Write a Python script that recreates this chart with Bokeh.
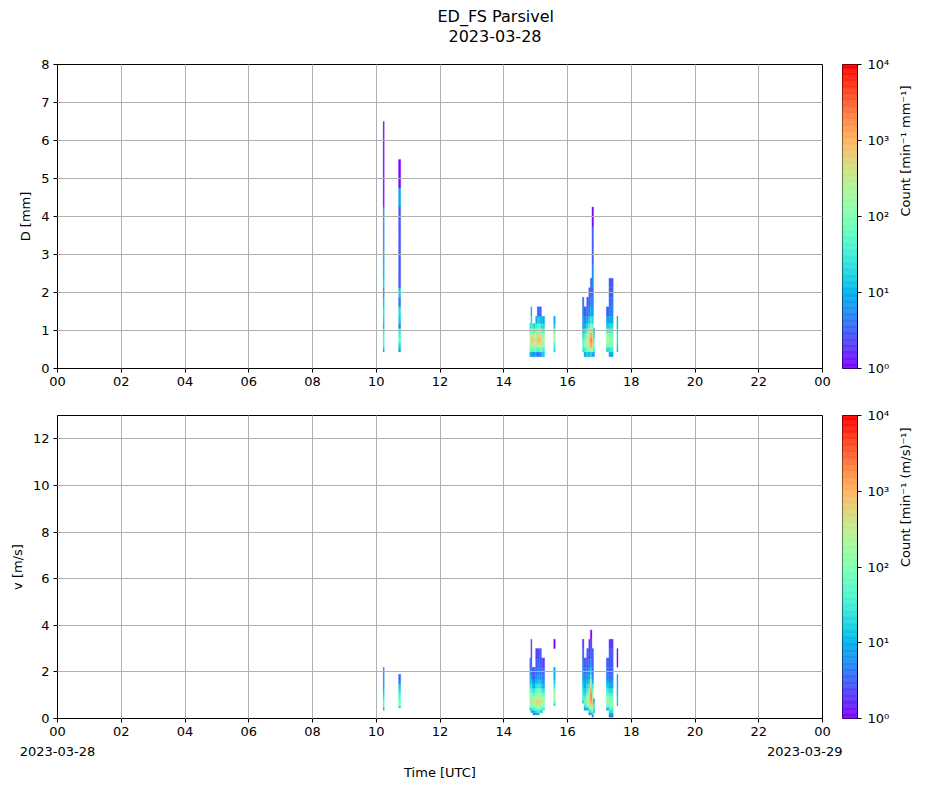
import math
import numpy as np
from bokeh.plotting import figure
from bokeh.models import ColumnDataSource, LogColorMapper, FixedTicker, Range1d, LinearAxis, Title
from bokeh.layouts import column, row
from bokeh.embed import file_html
from bokeh.resources import INLINE

# ---------------- data ----------------
TITLE_LINES = ["ED_FS Parsivel", "2023-03-28"]
DATE_START = "2023-03-28"
DATE_END = "2023-03-29"
X_TICKS = [0, 2, 4, 6, 8, 10, 12, 14, 16, 18, 20, 22, 24]
X_TICK_LABELS = ["00", "02", "04", "06", "08", "10", "12", "14", "16", "18", "20", "22", "00"]
D_TICKS = [0, 1, 2, 3, 4, 5, 6, 7, 8]
V_TICKS = [0, 2, 4, 6, 8, 10, 12]
CB_TICKS = [1, 10, 100, 1000, 10000]
CB_LABELS = ["10⁰", "10¹", "10²", "10³", "10⁴"]

# diameter class centres (mm) used as cell boundaries
D_EDGES = [0.312, 0.437, 0.562, 0.687, 0.812, 0.937, 1.062, 1.187, 1.375, 1.625,
           1.875, 2.125, 2.375, 2.75, 3.25, 3.75, 4.25, 4.75, 5.5, 6.5]
# velocity class centres (m/s) used as cell boundaries
V_EDGES = [0.05, 0.15, 0.25, 0.35, 0.45, 0.55, 0.65, 0.75, 0.85, 0.95, 1.1, 1.3,
           1.5, 1.7, 1.9, 2.2, 2.6, 3.0, 3.4, 3.8, 4.4]

# time columns, minutes after 00 UTC
T_START = [613, 642, 889, 891, 893, 895, 900, 903, 907, 911, 913, 934,
           988, 991, 996, 1000, 1003, 1006, 1009, 1033, 1038, 1053]
T_END = [615, 646, 891, 893, 895, 900, 903, 907, 911, 913, 917, 937,
         991, 996, 1000, 1003, 1006, 1009, 1011, 1038, 1046, 1055]

# counts per diameter cell (per column)
D_COUNTS = [
    [0, 8, 30, 40, 30, 20, 10, 15, 20, 12, 5, 15, 10, 8, 6, 6, 1, 1, 1],
    [0, 10, 20, 60, 40, 25, 5, 15, 20, 4, 15, 3, 3, 3, 3, 3, 8, 1],
    [10, 60, 200, 300, 120, 40, 15],
    [8, 50, 250, 500, 300, 100, 40, 15, 8],
    [10, 80, 300, 700, 400, 120, 30],
    [6, 60, 250, 400, 200, 60, 20],
    [8, 60, 300, 500, 250, 80, 30, 10],
    [3, 40, 300, 800, 600, 200, 50, 15, 3],
    [5, 80, 400, 900, 500, 150, 40, 12, 3],
    [10, 50, 200, 300, 150, 50, 15, 8],
    [15, 40, 150, 250, 120, 40, 20, 10],
    [0, 20, 40, 150, 300, 60, 15, 8],
    [0, 30, 60, 40, 20, 15, 10, 8, 5, 4],
    [10, 40, 100, 80, 40, 20, 10, 5, 3],
    [15, 80, 200, 300, 150, 60, 20, 10, 4, 3],
    [10, 100, 400, 600, 400, 150, 40, 15, 5, 3, 3],
    [20, 300, 1500, 2500, 1500, 500, 100, 30, 10, 5, 3, 3],
    [10, 150, 600, 1000, 500, 200, 60, 20, 8, 5, 4, 6, 6, 3, 3, 1],
    [5, 30, 60, 40, 15, 8],
    [0, 20, 80, 200, 120, 40, 15, 8, 3],
    [10, 30, 100, 150, 80, 40, 20, 10, 5, 4, 3, 3],
    [0, 10, 15, 20, 20, 15, 10, 8],
]

# counts per velocity cell (per column)
V_COUNTS = [
    [0, 0, 0, 8, 20, 40, 40, 30, 20, 15, 10, 8, 6, 5, 5],
    [0, 0, 0, 0, 20, 150, 80, 60, 50, 40, 20, 15, 4, 3],
    [0, 0, 0, 10, 40, 100, 150, 150, 120, 80, 40, 20, 10, 8, 5, 3],
    [0, 0, 10, 30, 80, 200, 300, 300, 200, 120, 60, 30, 15, 8, 5, 3, 2, 2],
    [0, 0, 8, 40, 120, 250, 350, 300, 200, 100, 40, 15, 8, 5, 3],
    [0, 5, 10, 40, 100, 200, 250, 200, 120, 60, 25, 10, 5, 3, 3],
    [0, 8, 20, 60, 150, 300, 400, 350, 250, 120, 60, 25, 10, 6, 4, 3, 2],
    [0, 10, 30, 80, 200, 400, 600, 500, 300, 150, 60, 25, 12, 6, 4, 3, 2],
    [0, 0, 20, 60, 150, 300, 500, 450, 300, 150, 60, 25, 12, 6, 4, 3, 3],
    [0, 0, 10, 40, 100, 200, 300, 250, 150, 80, 30, 12, 6, 4, 3, 2],
    [0, 0, 0, 30, 80, 150, 200, 180, 120, 60, 25, 10, 5, 4, 3, 2],
    [0, 0, 0, 0, 0, 20, 60, 150, 300, 200, 80, 30, 15, 10, 8, 0, 0, 1],
    [0, 0, 0, 0, 0, 0, 15, 30, 40, 30, 20, 15, 10, 8, 6, 4, 3, 2],
    [0, 0, 0, 8, 20, 40, 60, 60, 40, 25, 15, 10, 8, 6, 4, 3],
    [0, 0, 0, 10, 40, 100, 200, 200, 150, 80, 40, 20, 10, 6, 4, 3, 3],
    [0, 5, 15, 40, 120, 300, 500, 600, 400, 200, 80, 30, 15, 8, 5, 3, 2, 2],
    [0, 10, 30, 100, 300, 600, 1200, 2000, 2500, 2500, 1500, 600, 150, 40, 15, 6, 3, 2, 1],
    [5, 20, 60, 200, 400, 600, 700, 600, 400, 200, 80, 30, 10, 6, 4, 3, 3],
    [0, 0, 10, 20, 30, 20, 10, 5],
    [0, 0, 0, 10, 40, 80, 150, 150, 100, 60, 30, 15, 8, 5, 4, 3],
    [5, 10, 20, 40, 80, 120, 150, 120, 80, 40, 20, 10, 6, 4, 3, 3, 3, 2],
    [0, 0, 0, 0, 0, 10, 15, 15, 15, 10, 10, 8, 8, 8, 0, 1, 1],
]

# ---------------- styling helpers ----------------
FONT = "DejaVu Sans"


def rainbow(n=256):
    cols = []
    for i in range(n):
        x = i / (n - 1)
        r = min(1.0, abs(2 * x - 0.5))
        g = np.sin(np.pi * x)
        b = max(0.0, np.cos(np.pi * x / 2))
        cols.append("#%02x%02x%02x" % (int(round(r * 255)), int(round(g * 255)), int(round(b * 255))))
    return cols


PALETTE = rainbow()
MAPPER = LogColorMapper(palette=PALETTE, low=1, high=10000)


def cell_source(counts, edges):
    L, R, B, T, C = [], [], [], [], []
    for t0, t1, col in zip(T_START, T_END, counts):
        for k, c in enumerate(col):
            if c > 0:
                L.append(t0 / 60.0)
                R.append(t1 / 60.0)
                B.append(edges[k])
                T.append(edges[k + 1])
                C.append(c)
    return ColumnDataSource(dict(left=L, right=R, bottom=B, top=T, count=C))


def style_axis(ax):
    ax.major_label_text_font = FONT
    ax.major_label_text_font_size = "13px"
    ax.major_label_text_color = "black"
    ax.axis_label_text_font = FONT
    ax.axis_label_text_font_size = "13px"
    ax.axis_label_text_font_style = "normal"
    ax.axis_label_text_color = "black"
    ax.major_tick_in = 0
    ax.major_tick_out = 4
    ax.minor_tick_line_color = None
    ax.axis_line_color = "black"
    ax.major_tick_line_color = "black"
    ax.major_label_standoff = 4


def style_fig(p):
    for ax in p.axis:
        style_axis(ax)
    p.outline_line_color = "black"
    p.outline_line_alpha = 1
    p.grid.grid_line_color = "#b0b0b0"
    p.grid.grid_line_width = 1
    p.grid.level = "overlay"
    p.background_fill_color = "white"
    p.border_fill_color = "white"


LEFT_B = 57


def main_fig(src, y_end, y_ticks, ylab, fh, top_b, bot_b, with_dates=False, with_title=False):
    p = figure(frame_width=765, frame_height=fh, x_range=Range1d(0, 24), y_range=Range1d(0, y_end),
               output_backend="svg", toolbar_location=None,
               min_border_left=LEFT_B, min_border_right=20, min_border_top=top_b, min_border_bottom=bot_b)
    p.quad(left="left", right="right", bottom="bottom", top="top", source=src,
           fill_color={"field": "count", "transform": MAPPER},
           line_color={"field": "count", "transform": MAPPER}, line_width=0.3)
    p.xaxis.ticker = FixedTicker(ticks=X_TICKS)
    p.xaxis.major_label_overrides = {t: l for t, l in zip(X_TICKS, X_TICK_LABELS)}
    p.yaxis.ticker = FixedTicker(ticks=y_ticks)
    p.xgrid.ticker = FixedTicker(ticks=X_TICKS)
    p.ygrid.ticker = FixedTicker(ticks=y_ticks)
    p.yaxis.axis_label = ylab
    if with_dates:
        ax2 = LinearAxis(ticker=FixedTicker(ticks=[0, 24]),
                         major_label_overrides={0: DATE_START, 24: DATE_END})
        p.add_layout(ax2, "below")
    style_fig(p)
    if with_dates:
        ax2.major_tick_line_color = None
        ax2.major_tick_out = 0
        ax2.axis_line_color = None
        ax2.major_label_standoff = 8
        ax2.axis_label = "Time [UTC]"
        ax2.axis_label_standoff = 6
    if with_title:
        t2 = Title(text=TITLE_LINES[1], align="left", offset=391, standoff=45,
                   text_font=FONT, text_font_size="16px", text_font_style="normal", text_color="black")
        t1 = Title(text=TITLE_LINES[0], align="left", offset=380, standoff=-41,
                   text_font=FONT, text_font_size="16px", text_font_style="normal", text_color="black")
        p.add_layout(t2, "above")
        p.add_layout(t1, "above")
    return p


def cbar_fig(label, fh, top_b, bot_b):
    n = len(PALETTE)
    lo = [10 ** (4.0 * i / n) for i in range(n)]
    hi = [10 ** (4.0 * (i + 1) / n) for i in range(n)]
    src = ColumnDataSource(dict(bottom=lo, top=hi, color=PALETTE))
    p = figure(frame_width=15, frame_height=fh, x_range=Range1d(0, 1), y_range=Range1d(1, 10000),
               y_axis_type="log", y_axis_location="right", x_axis_location=None,
               output_backend="svg", toolbar_location=None,
               min_border_left=0, min_border_right=0, min_border_top=top_b, min_border_bottom=bot_b)
    p.quad(left=0, right=1, bottom="bottom", top="top", fill_color="color", line_color="color",
           line_width=0.5, source=src)
    style_fig(p)
    p.grid.visible = False
    p.yaxis.ticker = FixedTicker(ticks=CB_TICKS, minor_ticks=[])
    p.yaxis.major_label_overrides = {t: l for t, l in zip(CB_TICKS, CB_LABELS)}
    p.yaxis.major_label_standoff = 6
    p.yaxis.axis_label = label
    p.yaxis.axis_label_standoff = 13
    p.yaxis.axis_label_orientation = math.pi / 2
    return p


TOP_B = 64
p1 = main_fig(cell_source(D_COUNTS, D_EDGES), 8, D_TICKS, "D [mm]", 304, TOP_B, 30, with_title=True)
p2 = main_fig(cell_source(V_COUNTS, V_EDGES), 13, V_TICKS, "v [m/s]", 303, 17, 50, with_dates=True)
c1 = cbar_fig("Count [min⁻¹ mm⁻¹]", 304, TOP_B, 30)
c2 = cbar_fig("Count [min⁻¹ (m/s)⁻¹]", 303, 17, 50)

layout = column(row(p1, c1), row(p2, c2))
open("out.html", "w").write(file_html(layout, INLINE))
